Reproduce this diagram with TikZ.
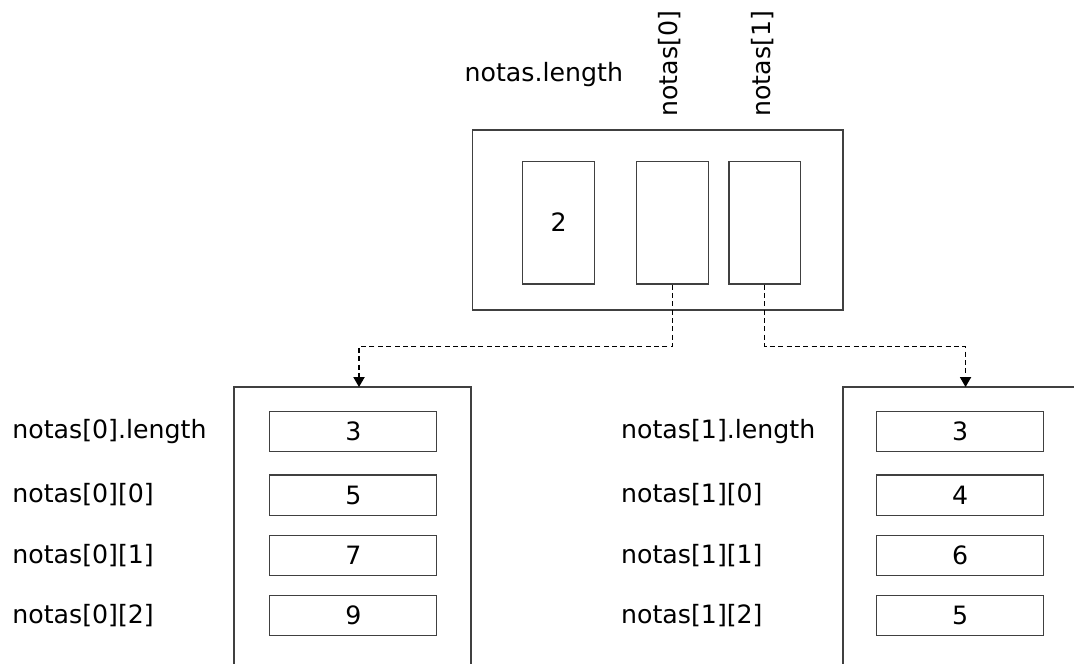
\documentclass[tikz,border=0pt]{standalone}
\usepackage{fontspec}
\setmainfont{DejaVu Sans}
\usetikzlibrary{positioning,arrows.meta}

\tikzset{
  cell/.style={draw=black!75, line width=0.85pt, inner sep=0pt},
  tallcell/.style={cell, minimum width=1.9cm, minimum height=3.25cm},
  widecell/.style={cell, minimum width=4.42cm, minimum height=1.06cm},
  frame/.style={draw=black!75, line width=0.95pt, inner sep=0pt},
  lbl/.style={inner sep=0pt, anchor=west},
  link/.style={dash pattern=on 3.8pt off 2.5pt, line width=0.8pt,
    -{Triangle[length=7.5pt,width=8.5pt]}},
}

\begin{document}
\begin{tikzpicture}[scale = 1, font=\fontsize{19}{22}\selectfont]

\useasboundingbox (0,0) rectangle (28.42,-17.57);
\clip (0,0) rectangle (28.42,-17.57);

% notas
\node[frame, minimum width=9.81cm, minimum height=4.76cm] (top) at (17.40,-5.82) {};
\node[tallcell] (len) at (14.78,-5.89) {2};
\node[tallcell] (v0) at (17.79,-5.89) {};
\node[tallcell] (v1) at (20.24,-5.89) {};

\node[inner sep=0pt] (toplen) at (14.39,-1.96) {notas.length};
\node[inner sep=0pt, rotate=90] (name0) at (17.73,-1.69) {notas[0]};
\node[inner sep=0pt, rotate=90] (name1) at (20.19,-1.69) {notas[1]};

% notas[0]
\node[frame, minimum width=6.27cm, minimum height=8cm] (row0) at (9.33,-14.24) {};
\node[widecell] (a0len) at (9.35,-11.42) {3};
\node[widecell] (a00) at (9.35,-13.10) {5};
\node[widecell] (a01) at (9.35,-14.69) {7};
\node[widecell] (a02) at (9.35,-16.29) {9};

\node[lbl] (la0len) at (0.32,-11.42) {notas[0].length};
\node[lbl] (la00) at (0.32,-13.10) {notas[0][0]};
\node[lbl] (la01) at (0.32,-14.69) {notas[0][1]};
\node[lbl] (la02) at (0.32,-16.29) {notas[0][2]};

% notas[1]
\node[frame, minimum width=6.27cm, minimum height=8cm] (row1) at (25.44,-14.24) {};
\node[widecell] (a1len) at (25.41,-11.42) {3};
\node[widecell] (a10) at (25.41,-13.10) {4};
\node[widecell] (a11) at (25.41,-14.69) {6};
\node[widecell] (a12) at (25.41,-16.29) {5};

\node[lbl] (la1len) at (16.43,-11.42) {notas[1].length};
\node[lbl] (la10) at (16.43,-13.10) {notas[1][0]};
\node[lbl] (la11) at (16.43,-14.69) {notas[1][1]};
\node[lbl] (la12) at (16.43,-16.29) {notas[1][2]};

% references
\coordinate (in0) at (9.50,-10.24);
\coordinate (in1) at (25.55,-10.24);
\draw[link] (v0.south) -- ++(0,-1.64) -| (in0);
\draw[link] (v1.south) -- ++(0,-1.64) -| (in1);

\end{tikzpicture}
\end{document}
